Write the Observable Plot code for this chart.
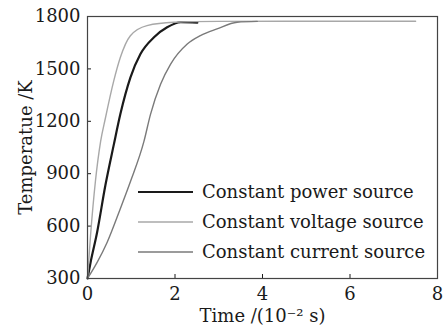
<!DOCTYPE html>
<html><head><meta charset="utf-8">
<script src="https://cdn.jsdelivr.net/npm/d3@7"></script>
<script src="https://cdn.jsdelivr.net/npm/@observablehq/plot@0.6"></script>
<style>
body{margin:0;background:#fff;}
#chart svg{font-family:"DejaVu Serif",serif;}
</style>
</head><body><div id="chart"></div>
<script>
const seriesNames = ["Constant power source","Constant voltage source","Constant current source"];
const powerT = [0,0.07,0.22,0.41,0.60,0.75,0.98,1.21,1.52,1.82,2.13,2.51];
const powerK = [300,392,565,835,1065,1240,1450,1585,1681,1738,1767,1765];
const voltageT = [0,0.07,0.18,0.30,0.41,0.60,0.75,0.98,1.36,1.97,3.0,4.5,6.0,7.5];
const voltageK = [300,548,854,1085,1219,1431,1565,1690,1748,1767,1772,1773,1773,1773];
const currentT = [0,0.22,0.45,0.75,0.98,1.29,1.44,1.67,1.90,2.28,2.58,2.96,3.42,3.88];
const currentK = [300,392,508,700,854,1085,1240,1412,1527,1642,1690,1729,1767,1772];
const xTicks = [0,2,4,6,8];
const yTicks = [300,600,900,1200,1500,1800];
const colors = ["#1a1a1a","#a8a8a8","#7a7a7a"];
const widths = [2.2,1.4,1.4];

const rows = [];
[[powerT,powerK],[voltageT,voltageK],[currentT,currentK]].forEach(([ts,ks],i)=>{
  ts.forEach((t,j)=>rows.push({series:seriesNames[i], t, k:ks[j], i}));
});

const plot = Plot.plot({
  width:447, height:331,
  marginLeft:87, marginRight:10, marginTop:16, marginBottom:53,
  style:{fontFamily:"DejaVu Serif, serif", fontSize:"18px", color:"#1a1a1a", background:"#fff"},
  x:{domain:[0,8]},
  y:{domain:[300,1800]},
  marks:[
    Plot.axisX({ticks:xTicks, tickFormat:d3.format("d"), tickSize:-4, tickPadding:13, label:"Time /(10\u207B\u00B2 s)", labelAnchor:"center", labelArrow:"none", labelOffset:43, fontSize:18}),
    Plot.axisY({ticks:yTicks, tickFormat:d3.format("d"), tickSize:-4, tickPadding:11, label:"Temperatue /K", labelAnchor:"center", labelArrow:"none", labelOffset:68, fontSize:18}),
    ...seriesNames.map((s,i)=>Plot.line(rows.filter(d=>d.i===i),{x:"t",y:"k",stroke:colors[i],strokeWidth:widths[i],curve:"monotone-x"})),
    Plot.frame({stroke:"#444", strokeWidth:1.2})
  ]
});
document.getElementById("chart").appendChild(plot);

// legend
const svg = d3.select(plot);
const lg = svg.append("g").attr("text-anchor","start");
seriesNames.forEach((s,i)=>{
  const y = 192 + i*30;
  lg.append("line").attr("x1",138).attr("x2",193).attr("y1",y).attr("y2",y)
    .attr("stroke",colors[i]).attr("stroke-width",widths[i]);
  lg.append("text").attr("x",202).attr("y",y).attr("dy","0.35em")
    .attr("font-size",18).attr("fill","#1a1a1a").attr("text-anchor","start").text(s);
});
</script>
</body></html>
